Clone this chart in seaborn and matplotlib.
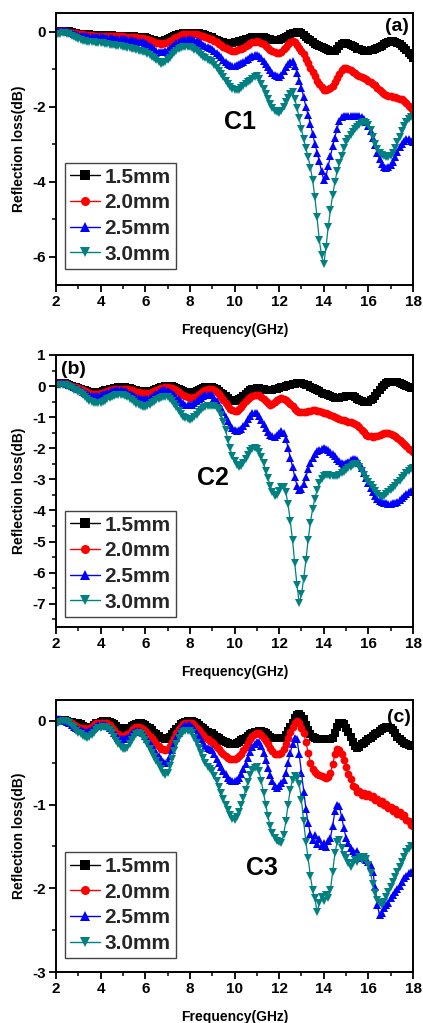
import numpy as np
import pandas as pd
import matplotlib
matplotlib.use("Agg")
import matplotlib.pyplot as plt
import seaborn as sns
from matplotlib.ticker import MultipleLocator

# Frequency sweep: 2-18 GHz, 0.1 GHz step (161 points)
FREQ_GHZ = np.round(np.arange(2.0, 18.0001, 0.1), 1)

THICKNESS = ["1.5mm", "2.0mm", "2.5mm", "3.0mm"]
COLORS = ["#000000", "#ff0000", "#0000ff", "#008080"]
MARKERS = ["s", "o", "^", "v"]

# ---------------- sample C1 ----------------
RL_C1_15 = [
    0.00, 0.01, 0.02, 0.02, 0.02, 0.02, 0.01, -0.01, -0.03, -0.04,
    -0.05, -0.06, -0.06, -0.07, -0.07, -0.07, -0.08, -0.08, -0.08, -0.08,
    -0.08, -0.08, -0.09, -0.09, -0.09, -0.09, -0.10, -0.10, -0.10, -0.10,
    -0.10, -0.11, -0.11, -0.12, -0.12, -0.12, -0.13, -0.13, -0.14, -0.14,
    -0.15, -0.17, -0.19, -0.21, -0.23, -0.24, -0.25, -0.25, -0.24, -0.22,
    -0.20, -0.17, -0.14, -0.11, -0.09, -0.07, -0.05, -0.04, -0.03, -0.02,
    -0.02, -0.02, -0.03, -0.03, -0.04, -0.05, -0.07, -0.09, -0.11, -0.13,
    -0.15, -0.18, -0.21, -0.24, -0.26, -0.28, -0.29, -0.30, -0.30, -0.29,
    -0.28, -0.27, -0.25, -0.24, -0.22, -0.20, -0.18, -0.16, -0.14, -0.13,
    -0.13, -0.13, -0.14, -0.15, -0.17, -0.18, -0.19, -0.21, -0.22, -0.23,
    -0.22, -0.20, -0.17, -0.14, -0.11, -0.07, -0.04, -0.02, 0.00, -0.01,
    -0.04, -0.08, -0.13, -0.18, -0.23, -0.28, -0.32, -0.36, -0.38, -0.41,
    -0.44, -0.47, -0.49, -0.51, -0.52, -0.50, -0.45, -0.39, -0.33, -0.30,
    -0.30, -0.32, -0.35, -0.38, -0.41, -0.45, -0.47, -0.49, -0.50, -0.50,
    -0.50, -0.49, -0.48, -0.46, -0.44, -0.41, -0.37, -0.33, -0.29, -0.26,
    -0.25, -0.25, -0.27, -0.30, -0.33, -0.37, -0.42, -0.49, -0.56, -0.63,
    -0.70,
]
RL_C1_20 = [
    0.00, 0.01, 0.01, 0.01, 0.01, 0.00, -0.01, -0.02, -0.03, -0.04,
    -0.05, -0.06, -0.07, -0.08, -0.08, -0.09, -0.09, -0.10, -0.10, -0.10,
    -0.10, -0.10, -0.11, -0.11, -0.11, -0.11, -0.12, -0.12, -0.12, -0.12,
    -0.12, -0.13, -0.13, -0.14, -0.14, -0.15, -0.15, -0.16, -0.16, -0.17,
    -0.18, -0.20, -0.22, -0.25, -0.28, -0.30, -0.31, -0.32, -0.31, -0.30,
    -0.28, -0.25, -0.21, -0.17, -0.14, -0.11, -0.09, -0.07, -0.06, -0.05,
    -0.05, -0.05, -0.06, -0.07, -0.08, -0.10, -0.12, -0.14, -0.16, -0.18,
    -0.20, -0.24, -0.28, -0.32, -0.36, -0.40, -0.44, -0.47, -0.49, -0.50,
    -0.50, -0.49, -0.47, -0.45, -0.42, -0.39, -0.35, -0.31, -0.28, -0.26,
    -0.25, -0.26, -0.29, -0.33, -0.38, -0.43, -0.48, -0.52, -0.55, -0.57,
    -0.57, -0.53, -0.47, -0.40, -0.33, -0.27, -0.25, -0.28, -0.35, -0.42,
    -0.50, -0.60, -0.72, -0.84, -0.96, -1.07, -1.18, -1.30, -1.40, -1.48,
    -1.55, -1.56, -1.53, -1.49, -1.44, -1.35, -1.24, -1.12, -1.03, -0.97,
    -0.96, -0.99, -1.03, -1.07, -1.11, -1.15, -1.18, -1.21, -1.24, -1.27,
    -1.30, -1.34, -1.38, -1.43, -1.49, -1.55, -1.60, -1.65, -1.69, -1.71,
    -1.72, -1.73, -1.74, -1.76, -1.78, -1.80, -1.84, -1.90, -1.97, -2.04,
    -2.10,
]
RL_C1_25 = [
    0.00, 0.01, 0.02, 0.02, 0.02, 0.01, -0.01, -0.03, -0.05, -0.07,
    -0.08, -0.10, -0.11, -0.12, -0.12, -0.13, -0.13, -0.14, -0.14, -0.15,
    -0.15, -0.15, -0.16, -0.16, -0.17, -0.17, -0.18, -0.18, -0.19, -0.19,
    -0.20, -0.20, -0.21, -0.22, -0.23, -0.24, -0.25, -0.26, -0.27, -0.28,
    -0.30, -0.33, -0.37, -0.41, -0.46, -0.50, -0.53, -0.55, -0.54, -0.51,
    -0.48, -0.44, -0.40, -0.35, -0.31, -0.27, -0.24, -0.22, -0.21, -0.20,
    -0.20, -0.21, -0.23, -0.25, -0.28, -0.31, -0.34, -0.37, -0.40, -0.42,
    -0.45, -0.50, -0.56, -0.62, -0.68, -0.74, -0.80, -0.85, -0.88, -0.90,
    -0.90, -0.89, -0.87, -0.84, -0.80, -0.76, -0.72, -0.68, -0.65, -0.63,
    -0.62, -0.64, -0.70, -0.77, -0.85, -0.93, -1.01, -1.09, -1.15, -1.19,
    -1.20, -1.14, -1.05, -0.95, -0.86, -0.80, -0.78, -0.90, -1.10, -1.30,
    -1.50, -1.75, -2.00, -2.22, -2.45, -2.72, -2.98, -3.22, -3.45, -3.72,
    -3.95, -3.85, -3.58, -3.30, -3.05, -2.82, -2.58, -2.38, -2.27, -2.25,
    -2.25, -2.24, -2.24, -2.25, -2.25, -2.25, -2.24, -2.26, -2.32, -2.40,
    -2.50, -2.65, -2.82, -3.02, -3.22, -3.40, -3.52, -3.60, -3.62, -3.60,
    -3.56, -3.48, -3.35, -3.20, -3.08, -2.98, -2.90, -2.86, -2.85, -2.92,
    -2.95,
]
RL_C1_30 = [
    -0.10, -0.07, -0.05, -0.04, -0.04, -0.05, -0.07, -0.10, -0.14, -0.17,
    -0.20, -0.22, -0.24, -0.25, -0.26, -0.27, -0.28, -0.28, -0.29, -0.29,
    -0.30, -0.31, -0.32, -0.33, -0.34, -0.35, -0.36, -0.37, -0.38, -0.39,
    -0.40, -0.41, -0.42, -0.43, -0.45, -0.46, -0.48, -0.50, -0.51, -0.53,
    -0.55, -0.58, -0.62, -0.66, -0.71, -0.76, -0.81, -0.85, -0.84, -0.80,
    -0.75, -0.69, -0.63, -0.56, -0.50, -0.46, -0.43, -0.41, -0.40, -0.40,
    -0.41, -0.44, -0.48, -0.52, -0.57, -0.62, -0.66, -0.71, -0.75, -0.78,
    -0.80, -0.88, -0.96, -1.05, -1.13, -1.21, -1.30, -1.38, -1.46, -1.52,
    -1.55, -1.56, -1.54, -1.50, -1.45, -1.40, -1.35, -1.30, -1.25, -1.21,
    -1.18, -1.25, -1.38, -1.52, -1.66, -1.80, -1.92, -2.02, -2.10, -2.15,
    -2.16, -2.10, -2.00, -1.88, -1.76, -1.66, -1.60, -1.78, -2.02, -2.30,
    -2.60, -2.85, -3.10, -3.35, -3.62, -3.95, -4.40, -4.95, -5.55, -5.95,
    -6.20, -5.75, -5.20, -4.75, -4.35, -4.00, -3.72, -3.50, -3.30, -3.10,
    -2.95, -2.85, -2.76, -2.68, -2.60, -2.54, -2.48, -2.44, -2.40, -2.42,
    -2.48, -2.62, -2.80, -2.98, -3.12, -3.22, -3.28, -3.32, -3.35, -3.34,
    -3.30, -3.22, -3.10, -2.95, -2.80, -2.65, -2.52, -2.40, -2.32, -2.28,
    -2.27,
]

# ---------------- sample C2 ----------------
RL_C2_15 = [
    0.08, 0.09, 0.10, 0.10, 0.09, 0.07, 0.04, 0.01, -0.02, -0.04,
    -0.06, -0.09, -0.12, -0.14, -0.17, -0.18, -0.19, -0.20, -0.20, -0.19,
    -0.18, -0.16, -0.14, -0.12, -0.10, -0.08, -0.06, -0.05, -0.04, -0.04,
    -0.04, -0.04, -0.05, -0.07, -0.09, -0.11, -0.13, -0.15, -0.16, -0.17,
    -0.18, -0.18, -0.17, -0.15, -0.12, -0.09, -0.06, -0.04, -0.02, -0.01,
    0.00, 0.00, -0.01, -0.03, -0.06, -0.09, -0.12, -0.15, -0.18, -0.19,
    -0.20, -0.20, -0.18, -0.15, -0.12, -0.09, -0.06, -0.04, -0.03, -0.03,
    -0.04, -0.06, -0.10, -0.15, -0.21, -0.27, -0.33, -0.39, -0.44, -0.47,
    -0.48, -0.46, -0.42, -0.37, -0.31, -0.25, -0.19, -0.14, -0.10, -0.08,
    -0.07, -0.07, -0.08, -0.10, -0.12, -0.13, -0.13, -0.12, -0.10, -0.08,
    -0.06, -0.04, -0.02, 0.00, 0.02, 0.04, 0.06, 0.08, 0.10, 0.11,
    0.10, 0.08, 0.05, 0.02, -0.02, -0.05, -0.09, -0.13, -0.17, -0.21,
    -0.24, -0.27, -0.30, -0.33, -0.36, -0.38, -0.38, -0.37, -0.36, -0.34,
    -0.33, -0.32, -0.32, -0.33, -0.36, -0.40, -0.44, -0.48, -0.50, -0.51,
    -0.50, -0.46, -0.40, -0.32, -0.23, -0.13, -0.04, 0.04, 0.10, 0.13,
    0.14, 0.14, 0.13, 0.12, 0.10, 0.07, 0.04, 0.01, -0.02, -0.05,
    -0.07,
]
RL_C2_20 = [
    0.10, 0.10, 0.10, 0.10, 0.09, 0.07, 0.04, 0.01, -0.02, -0.04,
    -0.07, -0.10, -0.13, -0.16, -0.19, -0.22, -0.24, -0.25, -0.25, -0.24,
    -0.23, -0.21, -0.18, -0.15, -0.13, -0.11, -0.09, -0.08, -0.08, -0.08,
    -0.08, -0.09, -0.10, -0.12, -0.14, -0.16, -0.18, -0.20, -0.21, -0.22,
    -0.22, -0.22, -0.21, -0.19, -0.16, -0.13, -0.10, -0.07, -0.05, -0.04,
    -0.04, -0.05, -0.07, -0.10, -0.14, -0.19, -0.24, -0.29, -0.33, -0.36,
    -0.38, -0.38, -0.36, -0.32, -0.27, -0.22, -0.17, -0.13, -0.10, -0.09,
    -0.09, -0.12, -0.18, -0.26, -0.36, -0.46, -0.56, -0.65, -0.73, -0.78,
    -0.80, -0.79, -0.74, -0.67, -0.58, -0.49, -0.41, -0.35, -0.31, -0.29,
    -0.28, -0.30, -0.35, -0.42, -0.49, -0.56, -0.60, -0.58, -0.52, -0.45,
    -0.41, -0.39, -0.40, -0.44, -0.50, -0.57, -0.65, -0.73, -0.79, -0.82,
    -0.83, -0.83, -0.82, -0.80, -0.79, -0.78, -0.78, -0.79, -0.81, -0.84,
    -0.86, -0.88, -0.90, -0.93, -0.96, -0.99, -1.02, -1.05, -1.08, -1.10,
    -1.12, -1.14, -1.16, -1.18, -1.21, -1.26, -1.33, -1.41, -1.49, -1.56,
    -1.60, -1.62, -1.63, -1.62, -1.60, -1.57, -1.54, -1.52, -1.52, -1.52,
    -1.54, -1.58, -1.62, -1.66, -1.72, -1.79, -1.86, -1.94, -2.01, -2.07,
    -2.11,
]
RL_C2_25 = [
    0.10, 0.10, 0.10, 0.10, 0.09, 0.07, 0.04, 0.00, -0.04, -0.07,
    -0.10, -0.14, -0.18, -0.22, -0.26, -0.29, -0.31, -0.33, -0.33, -0.32,
    -0.30, -0.27, -0.24, -0.21, -0.18, -0.16, -0.15, -0.14, -0.14, -0.14,
    -0.15, -0.17, -0.20, -0.24, -0.28, -0.32, -0.36, -0.39, -0.41, -0.42,
    -0.42, -0.41, -0.38, -0.34, -0.29, -0.24, -0.19, -0.16, -0.14, -0.14,
    -0.15, -0.18, -0.23, -0.29, -0.36, -0.43, -0.50, -0.56, -0.60, -0.62,
    -0.62, -0.60, -0.55, -0.49, -0.43, -0.37, -0.32, -0.29, -0.28, -0.28,
    -0.30, -0.38, -0.48, -0.60, -0.72, -0.84, -0.98, -1.12, -1.26, -1.36,
    -1.42, -1.43, -1.42, -1.38, -1.30, -1.20, -1.07, -0.96, -0.88, -0.85,
    -0.87, -0.95, -1.08, -1.22, -1.36, -1.48, -1.57, -1.62, -1.63, -1.58,
    -1.50, -1.46, -1.50, -1.70, -1.98, -2.30, -2.60, -2.92, -3.20, -3.35,
    -3.30, -3.15, -2.92, -2.68, -2.48, -2.32, -2.20, -2.10, -2.04, -2.01,
    -2.00, -2.02, -2.06, -2.12, -2.19, -2.26, -2.34, -2.42, -2.48, -2.50,
    -2.48, -2.44, -2.39, -2.35, -2.34, -2.38, -2.48, -2.62, -2.78, -2.95,
    -3.12, -3.28, -3.42, -3.54, -3.64, -3.70, -3.73, -3.75, -3.77, -3.78,
    -3.78, -3.77, -3.75, -3.72, -3.67, -3.61, -3.55, -3.48, -3.42, -3.38,
    -3.35,
]
RL_C2_30 = [
    0.02, 0.03, 0.03, 0.03, 0.02, 0.00, -0.03, -0.07, -0.11, -0.14,
    -0.18, -0.23, -0.29, -0.35, -0.41, -0.47, -0.51, -0.54, -0.56, -0.56,
    -0.54, -0.51, -0.47, -0.43, -0.39, -0.35, -0.32, -0.30, -0.29, -0.29,
    -0.30, -0.32, -0.35, -0.40, -0.45, -0.51, -0.57, -0.61, -0.64, -0.66,
    -0.66, -0.65, -0.61, -0.56, -0.50, -0.45, -0.40, -0.37, -0.35, -0.34,
    -0.35, -0.40, -0.48, -0.58, -0.68, -0.79, -0.89, -0.98, -1.04, -1.07,
    -1.08, -1.06, -1.00, -0.92, -0.84, -0.76, -0.70, -0.66, -0.64, -0.63,
    -0.63, -0.65, -0.70, -0.78, -0.92, -1.14, -1.42, -1.72, -2.00, -2.24,
    -2.42, -2.55, -2.60, -2.56, -2.46, -2.34, -2.22, -2.10, -2.02, -1.99,
    -2.02, -2.12, -2.28, -2.48, -2.72, -2.96, -3.20, -3.40, -3.52, -3.50,
    -3.38, -3.26, -3.25, -3.42, -3.80, -4.35, -4.95, -5.70, -6.40, -6.98,
    -6.70, -6.20, -5.60, -4.95, -4.40, -3.95, -3.62, -3.35, -3.12, -2.98,
    -2.88, -2.85, -2.86, -2.88, -2.90, -2.90, -2.88, -2.85, -2.80, -2.75,
    -2.70, -2.65, -2.60, -2.55, -2.50, -2.52, -2.60, -2.72, -2.86, -2.98,
    -3.08, -3.18, -3.28, -3.38, -3.48, -3.54, -3.56, -3.54, -3.48, -3.42,
    -3.35, -3.28, -3.20, -3.12, -3.05, -2.97, -2.88, -2.80, -2.72, -2.66,
    -2.62,
]

# ---------------- sample C3 ----------------
RL_C3_15 = [
    0.00, 0.01, 0.01, 0.01, 0.01, 0.00, -0.01, -0.01, -0.02, -0.03,
    -0.03, -0.04, -0.06, -0.07, -0.08, -0.08, -0.07, -0.05, -0.03, -0.02,
    -0.01, 0.00, 0.00, 0.00, -0.01, -0.02, -0.04, -0.06, -0.08, -0.09,
    -0.10, -0.10, -0.09, -0.08, -0.06, -0.05, -0.04, -0.03, -0.03, -0.04,
    -0.05, -0.07, -0.09, -0.11, -0.14, -0.16, -0.18, -0.20, -0.21, -0.22,
    -0.21, -0.19, -0.16, -0.13, -0.10, -0.07, -0.04, -0.02, -0.01, 0.00,
    0.00, 0.00, -0.01, -0.03, -0.05, -0.07, -0.09, -0.11, -0.13, -0.14,
    -0.15, -0.17, -0.19, -0.21, -0.23, -0.24, -0.25, -0.26, -0.27, -0.27,
    -0.27, -0.26, -0.25, -0.23, -0.22, -0.20, -0.18, -0.16, -0.15, -0.13,
    -0.13, -0.12, -0.12, -0.13, -0.15, -0.17, -0.19, -0.20, -0.21, -0.21,
    -0.21, -0.20, -0.20, -0.17, -0.12, -0.07, -0.02, 0.03, 0.07, 0.08,
    0.06, 0.02, -0.05, -0.11, -0.16, -0.19, -0.21, -0.22, -0.22, -0.22,
    -0.22, -0.22, -0.22, -0.22, -0.20, -0.14, -0.07, -0.03, -0.02, -0.04,
    -0.08, -0.13, -0.19, -0.25, -0.30, -0.32, -0.31, -0.28, -0.26, -0.24,
    -0.22, -0.20, -0.18, -0.16, -0.14, -0.12, -0.10, -0.08, -0.07, -0.07,
    -0.08, -0.11, -0.15, -0.19, -0.22, -0.24, -0.26, -0.28, -0.29, -0.30,
    -0.30,
]
RL_C3_20 = [
    0.00, 0.01, 0.01, 0.01, 0.00, -0.01, -0.02, -0.03, -0.05, -0.06,
    -0.07, -0.08, -0.09, -0.10, -0.10, -0.09, -0.07, -0.05, -0.03, -0.02,
    -0.02, -0.02, -0.02, -0.03, -0.05, -0.08, -0.11, -0.14, -0.16, -0.18,
    -0.18, -0.18, -0.16, -0.14, -0.11, -0.09, -0.07, -0.07, -0.08, -0.10,
    -0.12, -0.15, -0.18, -0.21, -0.24, -0.27, -0.30, -0.33, -0.34, -0.35,
    -0.34, -0.30, -0.25, -0.20, -0.15, -0.10, -0.07, -0.04, -0.03, -0.02,
    -0.02, -0.03, -0.05, -0.08, -0.11, -0.14, -0.17, -0.20, -0.22, -0.24,
    -0.25, -0.28, -0.31, -0.34, -0.37, -0.40, -0.42, -0.44, -0.45, -0.45,
    -0.45, -0.44, -0.42, -0.39, -0.35, -0.31, -0.26, -0.22, -0.18, -0.16,
    -0.15, -0.15, -0.17, -0.20, -0.24, -0.28, -0.32, -0.36, -0.39, -0.40,
    -0.40, -0.38, -0.33, -0.27, -0.20, -0.13, -0.07, -0.02, 0.00, -0.02,
    -0.08, -0.15, -0.25, -0.38, -0.50, -0.57, -0.61, -0.63, -0.65, -0.66,
    -0.67, -0.68, -0.67, -0.62, -0.52, -0.40, -0.34, -0.35, -0.40, -0.47,
    -0.55, -0.64, -0.69, -0.78, -0.79, -0.85, -0.84, -0.89, -0.86, -0.90,
    -0.87, -0.91, -0.90, -0.95, -0.93, -0.98, -0.96, -1.01, -0.99, -1.04,
    -1.03, -1.08, -1.05, -1.11, -1.09, -1.14, -1.13, -1.18, -1.19, -1.24,
    -1.25,
]
RL_C3_25 = [
    0.02, 0.02, 0.02, 0.01, 0.00, -0.01, -0.03, -0.05, -0.07, -0.09,
    -0.10, -0.11, -0.12, -0.13, -0.13, -0.12, -0.10, -0.08, -0.06, -0.05,
    -0.05, -0.05, -0.05, -0.06, -0.08, -0.11, -0.14, -0.17, -0.20, -0.22,
    -0.22, -0.22, -0.21, -0.18, -0.15, -0.13, -0.12, -0.12, -0.13, -0.15,
    -0.18, -0.22, -0.26, -0.30, -0.34, -0.38, -0.42, -0.46, -0.49, -0.50,
    -0.48, -0.42, -0.35, -0.28, -0.21, -0.15, -0.10, -0.07, -0.05, -0.05,
    -0.05, -0.07, -0.10, -0.14, -0.18, -0.22, -0.26, -0.30, -0.32, -0.34,
    -0.35, -0.40, -0.45, -0.50, -0.55, -0.60, -0.64, -0.68, -0.71, -0.72,
    -0.72, -0.71, -0.68, -0.64, -0.58, -0.51, -0.44, -0.37, -0.31, -0.27,
    -0.25, -0.25, -0.30, -0.38, -0.47, -0.56, -0.65, -0.72, -0.78, -0.80,
    -0.78, -0.74, -0.70, -0.62, -0.50, -0.38, -0.28, -0.21, -0.22, -0.40,
    -0.62, -0.85, -1.05, -1.22, -1.35, -1.42, -1.36, -1.47, -1.41, -1.50,
    -1.46, -1.51, -1.44, -1.40, -1.25, -1.08, -1.00, -1.02, -1.15, -1.28,
    -1.40, -1.46, -1.52, -1.55, -1.58, -1.56, -1.60, -1.64, -1.62, -1.66,
    -1.68, -1.72, -1.80, -1.98, -2.20, -2.32, -2.30, -2.24, -2.20, -2.17,
    -2.12, -2.08, -2.05, -2.01, -1.97, -1.93, -1.88, -1.85, -1.82, -1.80,
    -1.80,
]
RL_C3_30 = [
    -0.05, -0.03, -0.01, 0.00, 0.00, -0.01, -0.03, -0.06, -0.09, -0.12,
    -0.14, -0.16, -0.18, -0.19, -0.20, -0.19, -0.17, -0.14, -0.11, -0.09,
    -0.08, -0.07, -0.07, -0.08, -0.11, -0.15, -0.19, -0.24, -0.28, -0.31,
    -0.33, -0.34, -0.32, -0.28, -0.23, -0.19, -0.16, -0.15, -0.16, -0.19,
    -0.23, -0.28, -0.33, -0.38, -0.43, -0.48, -0.53, -0.58, -0.62, -0.65,
    -0.62, -0.54, -0.45, -0.36, -0.28, -0.21, -0.16, -0.13, -0.12, -0.12,
    -0.12, -0.15, -0.20, -0.26, -0.32, -0.38, -0.44, -0.50, -0.55, -0.58,
    -0.60, -0.66, -0.72, -0.79, -0.86, -0.93, -1.00, -1.07, -1.13, -1.17,
    -1.18, -1.15, -1.09, -1.01, -0.92, -0.82, -0.73, -0.65, -0.59, -0.56,
    -0.55, -0.60, -0.72, -0.86, -1.00, -1.14, -1.26, -1.34, -1.40, -1.44,
    -1.45, -1.46, -1.36, -1.20, -1.00, -0.82, -0.70, -0.66, -0.68, -0.75,
    -0.95, -1.20, -1.45, -1.64, -1.85, -2.02, -2.12, -2.28, -2.18, -2.10,
    -2.15, -2.08, -2.12, -2.02, -1.80, -1.58, -1.45, -1.42, -1.52, -1.60,
    -1.64, -1.70, -1.74, -1.70, -1.66, -1.68, -1.63, -1.66, -1.62, -1.65,
    -1.72, -1.82, -1.95, -2.06, -2.14, -2.18, -2.20, -2.16, -2.10, -2.04,
    -1.98, -1.92, -1.86, -1.80, -1.74, -1.68, -1.62, -1.57, -1.53, -1.50,
    -1.49,
]

PANELS = [
    dict(series=[RL_C1_15, RL_C1_20, RL_C1_25, RL_C1_30], name="C1", tag="(a)",
         ylim=(-6.75, 0.5), major=2, minor=1, name_xy=(10.25, -2.41),
         tag_xy=(0.955, 0.95), leg_y=0.059),
    dict(series=[RL_C2_15, RL_C2_20, RL_C2_25, RL_C2_30], name="C2", tag="(b)",
         ylim=(-7.75, 1.0), major=1, minor=0.5, name_xy=(9.04, -2.96),
         tag_xy=(0.048, 0.945), leg_y=0.037),
    dict(series=[RL_C3_15, RL_C3_20, RL_C3_25, RL_C3_30], name="C3", tag="(c)",
         ylim=(-3.0, 0.25), major=1, minor=0.5, name_xy=(11.24, -1.76),
         tag_xy=(0.961, 0.937), leg_y=0.051),
]

sns.set_theme(style="ticks")
plt.rcParams["font.family"] = ["Liberation Sans", "DejaVu Sans"]
plt.rcParams["font.weight"] = "bold"
plt.rcParams["axes.labelweight"] = "bold"
plt.rcParams["axes.unicode_minus"] = False

fig = plt.figure(figsize=(4.23, 10.23), dpi=100)
W, H = 423.0, 1023.0
AX_LEFT, AX_RIGHT = 56.0, 413.0
AX_TOPS = [13.0, 355.0, 700.0]
AX_H = 272.0

palette = dict(zip(THICKNESS, COLORS))
marker_map = dict(zip(THICKNESS, MARKERS))

for panel, top in zip(PANELS, AX_TOPS):
    ax = fig.add_axes([AX_LEFT / W, 1 - (top + AX_H) / H,
                       (AX_RIGHT - AX_LEFT) / W, AX_H / H])
    frames = []
    for label, vals in zip(THICKNESS, panel["series"]):
        assert len(vals) == len(FREQ_GHZ)
        frames.append(pd.DataFrame({"freq": FREQ_GHZ, "rl": vals, "thickness": label}))
    df = pd.concat(frames, ignore_index=True)

    sns.lineplot(data=df, x="freq", y="rl", hue="thickness", style="thickness",
                 hue_order=THICKNESS, style_order=THICKNESS, palette=palette,
                 markers=marker_map, dashes=False, markersize=5.6,
                 markeredgewidth=0, linewidth=0.9, estimator=None, sort=False,
                 ax=ax)

    ax.set_xlim(2, 18)
    ax.set_ylim(*panel["ylim"])
    ax.xaxis.set_major_locator(MultipleLocator(2))
    ax.xaxis.set_minor_locator(MultipleLocator(1))
    ax.yaxis.set_major_locator(MultipleLocator(panel["major"]))
    ax.yaxis.set_minor_locator(MultipleLocator(panel["minor"]))
    ax.tick_params(axis="both", which="major", direction="out", length=5,
                   width=1.3, labelsize=11, colors="black", pad=2.5)
    ax.tick_params(axis="both", which="minor", direction="out", length=3,
                   width=1.1, colors="black")
    ax.tick_params(top=False, right=False, which="both")
    for lab in ax.get_xticklabels() + ax.get_yticklabels():
        lab.set_fontweight("bold")
    for sp in ax.spines.values():
        sp.set_visible(True)
        sp.set_linewidth(1.4)
        sp.set_color("black")

    ax.set_xlabel("Frequency(GHz)", fontsize=10, fontweight="bold",
                  color="black", labelpad=10)
    ax.set_ylabel("Reflection loss(dB)", fontsize=10, fontweight="bold",
                  color="black", labelpad=4)

    ax.text(*panel["name_xy"], panel["name"], fontsize=18, fontweight="bold",
            ha="center", va="center", color="black")
    ax.text(*panel["tag_xy"], panel["tag"], transform=ax.transAxes,
            fontsize=14, fontweight="bold", ha="center", va="center",
            color="black")

    handles, labels = ax.get_legend_handles_labels()
    keep = [(h, l) for h, l in zip(handles, labels) if l in THICKNESS]
    leg = ax.legend([h for h, _ in keep], [l for _, l in keep],
                    loc="lower left", bbox_to_anchor=(0.025, panel["leg_y"]),
                    borderaxespad=0, frameon=True, fancybox=False,
                    framealpha=1, edgecolor="#444444",
                    handlelength=1.45, handletextpad=0.2, labelspacing=0.32,
                    borderpad=0.25, prop={"weight": "bold", "size": 15})
    leg.get_frame().set_linewidth(1.0)
    for h in leg.legend_handles:
        h.set_markersize(6.5)
        h.set_linewidth(1.0)

fig.savefig("out.png", dpi=100)
